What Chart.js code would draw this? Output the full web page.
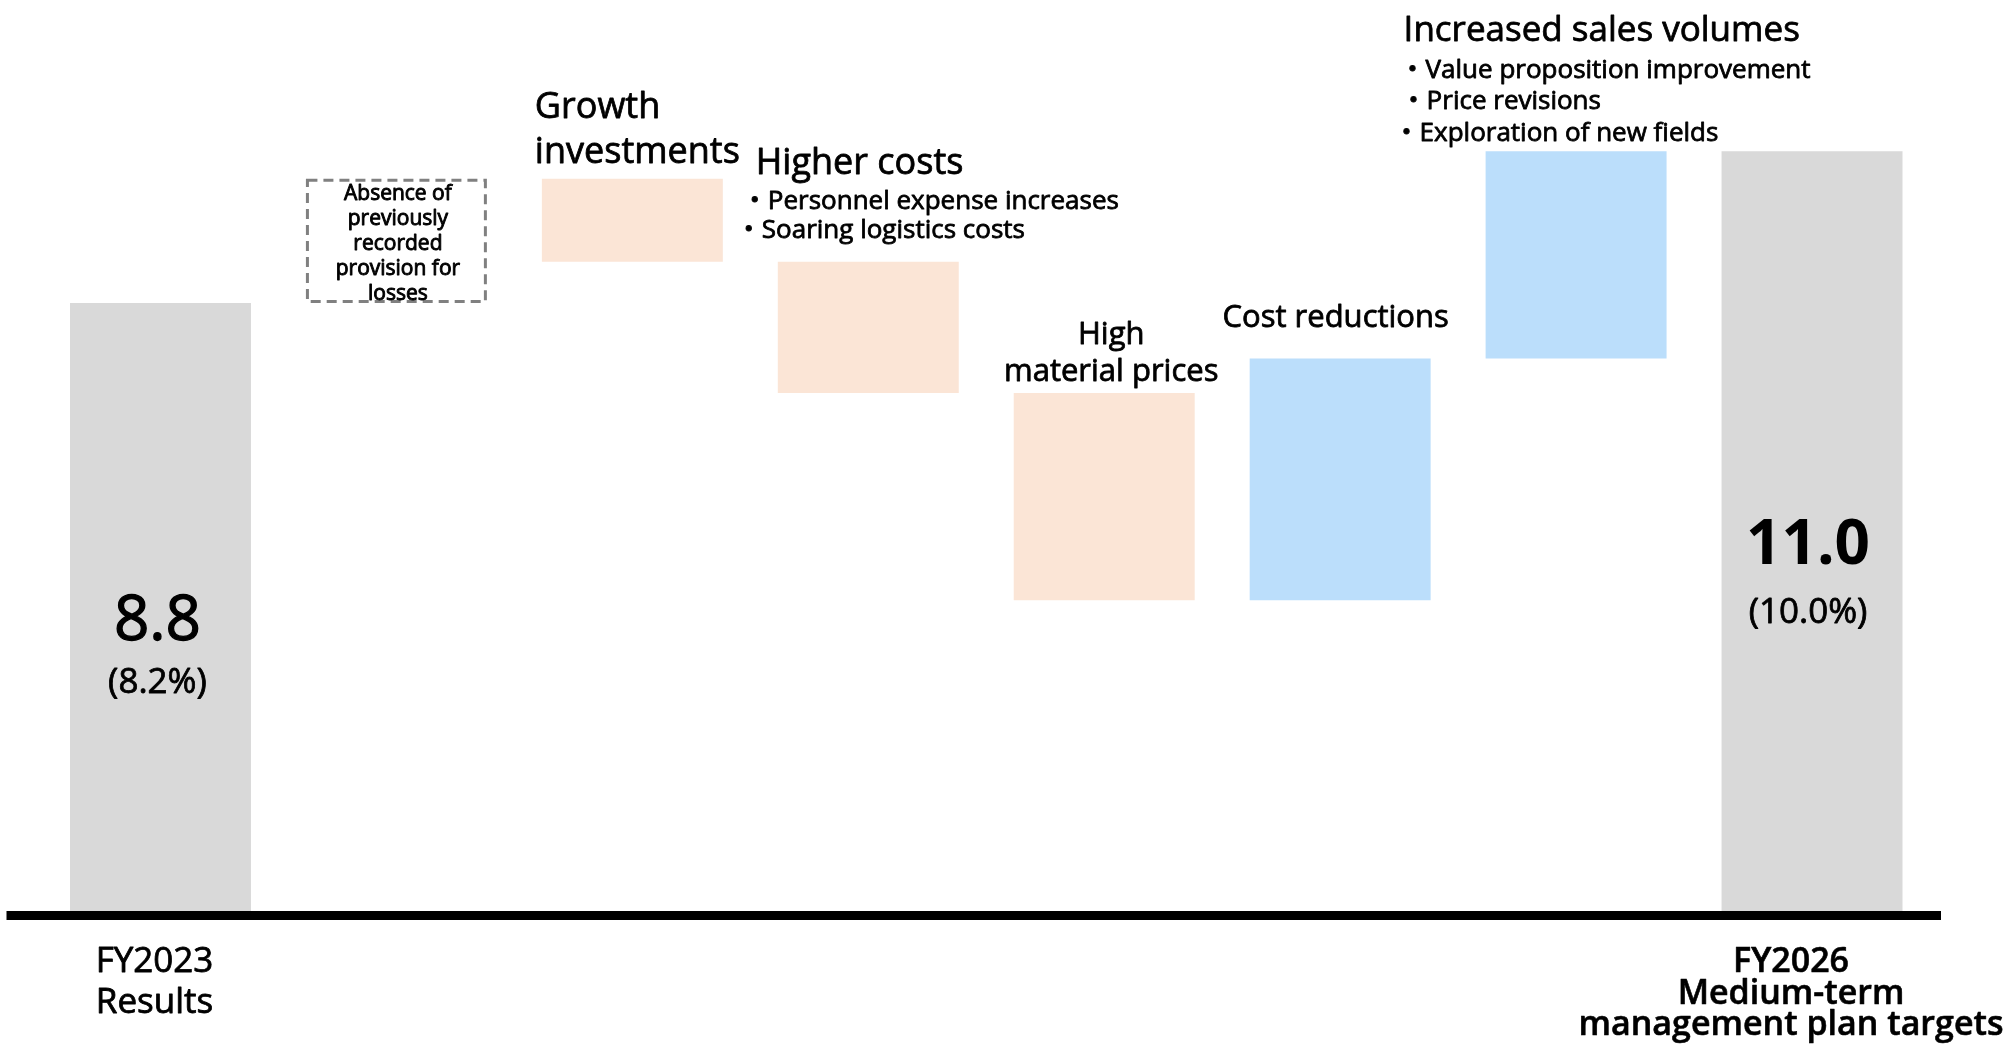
<!DOCTYPE html>
<html>
<head>
<meta charset="utf-8">
<script src="https://cdn.jsdelivr.net/npm/chart.js@4"></script>
<style>
html,body{margin:0;padding:0;background:#ffffff;}
#wrap{width:2014px;height:1044px;}
</style>
</head>
<body>
<div id="wrap"><canvas id="c" width="2014" height="1044"></canvas></div>
<script>
// ---- data (operating profit, billions of yen) ----
const categories = [
  'FY2023 Results',
  'Absence of previously recorded provision for losses',
  'Growth investments',
  'Higher costs',
  'High material prices',
  'Cost reductions',
  'Increased sales volumes',
  'FY2026 Medium-term management plan targets'
];
const barLow  = [0,   8.8,  9.4,  7.5, 4.5, 4.5, 8.0,  0];
const barHigh = [8.8, 10.6, 10.6, 9.4, 7.5, 8.0, 11.0, 11.0];
const barKind = ['total', 'dashed', 'down', 'down', 'down', 'up', 'up', 'total'];
const valueLabels  = ['8.8', '', '', '', '', '', '', '11.0'];
const marginLabels = ['(8.2%)', '', '', '', '', '', '', '(10.0%)'];
const axisLabels = [
  ['FY2023', 'Results'], [], [], [], [], [], [],
  ['FY2026', 'Medium-term', 'management plan targets']
];
const boxLines = ['Absence of', 'previously', 'recorded', 'provision for', 'losses'];
const growthLines = ['Growth', 'investments'];
const higherCostsTitle = 'Higher costs';
const higherCostsBullets = ['Personnel expense increases', 'Soaring logistics costs'];
const materialLines = ['High', 'material prices'];
const costReductionTitle = 'Cost reductions';
const salesTitle = 'Increased sales volumes';
const salesBullets = ['Value proposition improvement', 'Price revisions', 'Exploration of new fields'];

const kindColors = {total: '#D9D9D9', down: '#FBE5D6', up: '#BBDEFB', dashed: 'rgba(0,0,0,0)'};
const FONT = '"Open Sans", "Noto Sans CJK JP", sans-serif';

const annotations = {
  id: 'annotations',
  afterDatasetsDraw(chart) {
    const ctx = chart.ctx;
    const meta = chart.getDatasetMeta(0);
    const ys = chart.scales.y;
    const area = chart.chartArea;
    const bar = i => {
      const p = meta.data[i].getProps(['x', 'y', 'base', 'width'], true);
      const top = Math.min(p.y, p.base), bottom = Math.max(p.y, p.base);
      return {cx: p.x, left: p.x - p.width / 2, right: p.x + p.width / 2, top, bottom, mid: (top + bottom) / 2};
    };
    const font = (size, weight) => { ctx.font = `${weight} ${size}px ${FONT}`; };
    // heavier regular text (thin outline) to mimic the original's stroke weight
    const text = (s, x, y, size, weight, align, extra) => {
      font(size, weight);
      ctx.fillStyle = '#000000';
      ctx.strokeStyle = '#000000';
      ctx.textAlign = align || 'left';
      ctx.textBaseline = 'alphabetic';
      ctx.fillText(s, x, y);
      const sw = extra === undefined ? 0.8 : extra;
      if (sw > 0) {
        ctx.lineWidth = sw;
        ctx.lineJoin = 'round';
        ctx.strokeText(s, x, y);
      }
    };
    const bullet = (s, xText, y, size, weight) => {
      font(size, weight);
      const w = ctx.measureText('・').width;
      text('・' + s, xText - w, y, size, weight, 'left');
    };
    ctx.save();

    // dashed outline for the "absence of provision" bar
    barKind.forEach((k, i) => {
      if (k !== 'dashed') return;
      const b = bar(i);
      ctx.save();
      ctx.setLineDash([10, 6]);
      ctx.lineWidth = 3;
      ctx.strokeStyle = '#808080';
      ctx.strokeRect(b.left + 1.5, b.top + 1.5, b.right - b.left - 3, b.bottom - b.top - 3);
      ctx.restore();
      boxLines.forEach((s, j) => text(s, b.cx + 1.5, b.top + 21 + j * 25, 21, 400, 'center', 0.9));
    });

    // baseline axis
    const y0 = ys.getPixelForValue(0);
    ctx.fillStyle = '#000000';
    ctx.fillRect(area.left - 36, y0, (area.right + 11) - (area.left - 36), 9);

    // totals
    const b0 = bar(0), b7 = bar(7);
    text(valueLabels[0], b0.cx - 3, b0.mid + 33, 62, 400, 'center', 1.3);
    text(marginLabels[0], b0.cx - 3, b0.mid + 86, 35, 400, 'center', 0.8);
    text(valueLabels[7], b7.cx - 4, b7.mid + 33, 62, 700, 'center', 0);
    text(marginLabels[7], b7.cx - 4, b7.mid + 92, 35, 400, 'center', 0.8);

    // category axis labels
    axisLabels[0].forEach((s, j) => text(s, b0.cx - 6, y0 + 61 + j * 41, 35, 400, 'center', 0.8));
    axisLabels[7].forEach((s, j) => text(s, b7.cx - 21, y0 + 61 + j * 31.5, 34, 600, 'center', 0.6));

    // growth investments
    const b2 = bar(2);
    text(growthLines[0], b2.left - 7, b2.top - 61, 36, 400);
    text(growthLines[1], b2.left - 7, b2.top - 16, 36, 400);

    // higher costs
    const b3 = bar(3);
    text(higherCostsTitle, b3.left - 22, b3.top - 88, 36, 400);
    bullet(higherCostsBullets[0], b3.left - 10, b3.top - 53, 26, 400);
    bullet(higherCostsBullets[1], b3.left - 16, b3.top - 24, 26, 400);

    // high material prices
    const b4 = bar(4);
    text(materialLines[0], b4.cx + 7, b4.top - 49, 31, 400, 'center');
    text(materialLines[1], b4.cx + 7, b4.top - 12, 31, 400, 'center');

    // cost reductions
    const b5 = bar(5);
    text(costReductionTitle, b5.cx - 4.5, b5.top - 31, 31, 400, 'center');

    // increased sales volumes
    const b6 = bar(6);
    text(salesTitle, b6.left - 82, b6.top - 110, 35, 400);
    bullet(salesBullets[0], b6.left - 60, b6.top - 73, 26, 400);
    bullet(salesBullets[1], b6.left - 59, b6.top - 42, 26, 400);
    bullet(salesBullets[2], b6.left - 66, b6.top - 10, 26, 400);

    ctx.restore();
  }
};

new Chart(document.getElementById('c'), {
  type: 'bar',
  data: {
    labels: categories,
    datasets: [{
      data: categories.map((_, i) => [barLow[i], barHigh[i]]),
      backgroundColor: barKind.map(k => kindColors[k]),
      borderWidth: 0,
      categoryPercentage: 1.0,
      barPercentage: 0.767
    }]
  },
  options: {
    responsive: false,
    devicePixelRatio: 1,
    animation: false,
    layout: {padding: {left: 42.5, right: 84, top: 13, bottom: 133}},
    plugins: {legend: {display: false}, tooltip: {enabled: false}},
    scales: {
      x: {display: false},
      y: {display: false, min: 0, max: 13}
    }
  },
  plugins: [annotations]
});
</script>
</body>
</html>
